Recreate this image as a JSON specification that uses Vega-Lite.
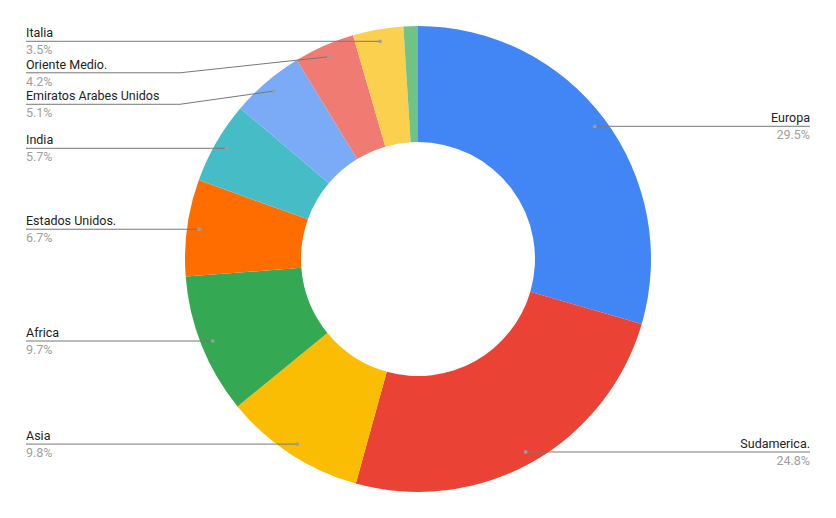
{
  "$schema": "https://vega.github.io/schema/vega-lite/v6.json",
  "width": 836,
  "height": 518,
  "autosize": {"type": "none"},
  "padding": 0,
  "background": "white",
  "config": {"view": {"stroke": null}, "text": {"font": "Roboto", "fontSize": 12.5}},
  "data": {"values": [
    {"orden": 1, "pais": "Europa", "pct": 29.5},
    {"orden": 2, "pais": "Sudamerica.", "pct": 24.8},
    {"orden": 3, "pais": "Asia", "pct": 9.8},
    {"orden": 4, "pais": "Africa", "pct": 9.7},
    {"orden": 5, "pais": "Estados Unidos.", "pct": 6.7},
    {"orden": 6, "pais": "India", "pct": 5.7},
    {"orden": 7, "pais": "Emiratos Arabes Unidos", "pct": 5.1},
    {"orden": 8, "pais": "Oriente Medio.", "pct": 4.2},
    {"orden": 9, "pais": "Italia", "pct": 3.5},
    {"orden": 10, "pais": "Otros", "pct": 1.0}
  ]},
  "layer": [
    {
      "mark": {"type": "arc", "innerRadius": 117, "outerRadius": 233},
      "encoding": {
        "theta": {"field": "pct", "type": "quantitative", "stack": true},
        "order": {"field": "orden", "type": "quantitative"},
        "color": {
          "field": "pais", "type": "nominal", "legend": null,
          "scale": {
            "domain": ["Europa", "Sudamerica.", "Asia", "Africa", "Estados Unidos.", "India", "Emiratos Arabes Unidos", "Oriente Medio.", "Italia", "Otros"],
            "range": ["#4285F4", "#EA4335", "#FBBC04", "#34A853", "#FF6D01", "#46BDC6", "#7BAAF7", "#F07B72", "#FCD04F", "#71C287"]
          }
        }
      }
    },
    {
      "transform": [
        {"window": [{"op": "sum", "field": "pct", "as": "cum"}], "sort": [{"field": "orden"}], "frame": [null, 0]},
        {"joinaggregate": [{"op": "sum", "field": "pct", "as": "total"}]},
        {"filter": "datum.pct >= 2"},
        {"calculate": "(datum.cum - datum.pct / 2) / datum.total * 2 * PI", "as": "ang"},
        {"calculate": "221 * sin(datum.ang)", "as": "px"},
        {"calculate": "221 * cos(datum.ang)", "as": "py"},
        {"calculate": "datum.px < 0 ? 'L' : 'R'", "as": "lado"},
        {"calculate": "-datum.py", "as": "down"},
        {"window": [{"op": "row_number", "as": "k"}], "groupby": ["lado"], "sort": [{"field": "down"}]},
        {"calculate": "datum.down - 31.5 * datum.k", "as": "v"},
        {"window": [{"op": "max", "field": "v", "as": "vmax"}], "groupby": ["lado"], "sort": [{"field": "down"}], "frame": [null, 0]},
        {"calculate": "-(datum.vmax + 31.5 * datum.k)", "as": "ly"},
        {"calculate": "datum.lado == 'L' ? -238 : 238", "as": "bx"},
        {"calculate": "datum.lado == 'L' ? -392 : 392", "as": "ex"},
        {"calculate": "format(datum.pct, '.1f') + '%'", "as": "etiqueta"}
      ],
      "layer": [
        {
          "mark": {"type": "rule", "color": "#777777", "strokeWidth": 1},
          "encoding": {
            "x": {"field": "px", "type": "quantitative", "scale": {"domain": [-418, 418], "nice": false, "zero": false}, "axis": null},
            "y": {"field": "py", "type": "quantitative", "scale": {"domain": [-259, 259], "nice": false, "zero": false}, "axis": null},
            "x2": {"field": "bx"},
            "y2": {"field": "ly"}
          }
        },
        {
          "mark": {"type": "rule", "color": "#777777", "strokeWidth": 1},
          "encoding": {
            "x": {"field": "bx", "type": "quantitative", "scale": {"domain": [-418, 418], "nice": false, "zero": false}, "axis": null},
            "y": {"field": "ly", "type": "quantitative", "scale": {"domain": [-259, 259], "nice": false, "zero": false}, "axis": null},
            "x2": {"field": "ex"},
            "y2": {"field": "ly"}
          }
        },
        {
          "mark": {"type": "point", "filled": true, "size": 14, "color": "#9e9e9e", "opacity": 1},
          "encoding": {
            "x": {"field": "px", "type": "quantitative", "scale": {"domain": [-418, 418], "nice": false, "zero": false}, "axis": null},
            "y": {"field": "py", "type": "quantitative", "scale": {"domain": [-259, 259], "nice": false, "zero": false}, "axis": null}
          }
        },
        {
          "transform": [{"filter": "datum.lado == 'L'"}],
          "mark": {"type": "text", "align": "left", "baseline": "alphabetic", "dy": -4, "color": "#222222"},
          "encoding": {
            "x": {"field": "ex", "type": "quantitative", "scale": {"domain": [-418, 418], "nice": false, "zero": false}, "axis": null},
            "y": {"field": "ly", "type": "quantitative", "scale": {"domain": [-259, 259], "nice": false, "zero": false}, "axis": null},
            "text": {"field": "pais"}
          }
        },
        {
          "transform": [{"filter": "datum.lado == 'L'"}],
          "mark": {"type": "text", "align": "left", "baseline": "top", "dy": 3, "color": "#9e9e9e"},
          "encoding": {
            "x": {"field": "ex", "type": "quantitative", "scale": {"domain": [-418, 418], "nice": false, "zero": false}, "axis": null},
            "y": {"field": "ly", "type": "quantitative", "scale": {"domain": [-259, 259], "nice": false, "zero": false}, "axis": null},
            "text": {"field": "etiqueta"}
          }
        },
        {
          "transform": [{"filter": "datum.lado == 'R'"}],
          "mark": {"type": "text", "align": "right", "baseline": "alphabetic", "dy": -4, "color": "#222222"},
          "encoding": {
            "x": {"field": "ex", "type": "quantitative", "scale": {"domain": [-418, 418], "nice": false, "zero": false}, "axis": null},
            "y": {"field": "ly", "type": "quantitative", "scale": {"domain": [-259, 259], "nice": false, "zero": false}, "axis": null},
            "text": {"field": "pais"}
          }
        },
        {
          "transform": [{"filter": "datum.lado == 'R'"}],
          "mark": {"type": "text", "align": "right", "baseline": "top", "dy": 3, "color": "#9e9e9e"},
          "encoding": {
            "x": {"field": "ex", "type": "quantitative", "scale": {"domain": [-418, 418], "nice": false, "zero": false}, "axis": null},
            "y": {"field": "ly", "type": "quantitative", "scale": {"domain": [-259, 259], "nice": false, "zero": false}, "axis": null},
            "text": {"field": "etiqueta"}
          }
        }
      ]
    }
  ]
}
